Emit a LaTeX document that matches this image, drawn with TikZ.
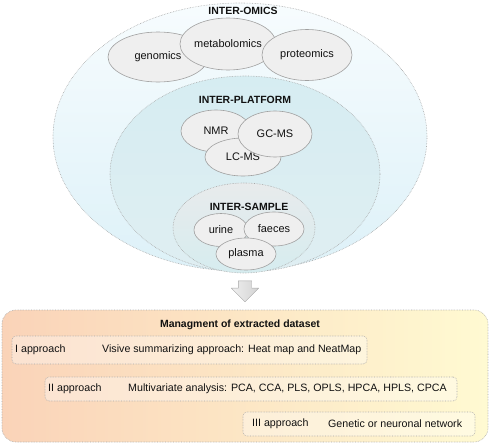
\documentclass[tikz,border=0pt]{standalone}
\usepackage{fontspec}
\setmainfont{Liberation Sans}
\usetikzlibrary{shapes.geometric,shapes.arrows}
\definecolor{ringline}{HTML}{A8A8A8}
\definecolor{omicfill}{HTML}{EFEFEF}
\definecolor{omicline}{HTML}{A0A0A0}
\definecolor{textcol}{HTML}{111111}
\definecolor{omicstop}{HTML}{F7FCFE}
\definecolor{omicsbot}{HTML}{DDF1F8}
\definecolor{platftop}{HTML}{D6EDF2}
\definecolor{platfbot}{HTML}{DFEEF2}
\definecolor{sampltop}{HTML}{E8EBEC}
\definecolor{samplbot}{HTML}{D6ECEF}
\definecolor{dataleft}{HTML}{FAD3B8}
\definecolor{dataright}{HTML}{FFFAD2}
\begin{document}
\begin{tikzpicture}[>=latex,line join=bevel,
  every node/.style={text=textcol,font=\fontsize{10.7}{12}\selectfont},
  ring/.style={ellipse,draw=ringline,densely dotted,line width=0.6bp,inner sep=0pt},
  omic/.style={ellipse,draw=omicline,fill=omicfill,line width=0.6bp,inner sep=0pt,font=\fontsize{11}{12}\selectfont},
  heading/.style={font=\fontsize{10.5}{12}\selectfont\bfseries},
  approachbox/.style={rounded corners=4bp,draw=ringline,densely dotted,line width=0.6bp,fill=white,fill opacity=0.35,inner sep=0pt},
  rowtext/.style={anchor=west,inner sep=0pt},
]
\useasboundingbox (0bp,0bp) rectangle (489bp,-444bp);
%%
\node (omics) at (240bp,-137bp) [ring,minimum width=374bp,minimum height=268bp,top color=omicstop,bottom color=omicsbot] {};
  \node (platform) at (245bp,-174bp) [ring,minimum width=270bp,minimum height=196bp,top color=platftop,bottom color=platfbot] {};
  \node (sample) at (244bp,-228bp) [ring,minimum width=142bp,minimum height=90bp,top color=sampltop,bottom color=samplbot] {};
%
\node (omics_lbl) at (243bp,-11bp) [heading] {INTER-OMICS};
  \node (platform_lbl) at (245bp,-100bp) [heading] {INTER-PLATFORM};
  \node (sample_lbl) at (249bp,-207bp) [heading] {INTER-SAMPLE};
%
\node (genomics) at (158bp,-57bp) [omic,minimum width=100bp,minimum height=50bp] {genomics};
  \node (metabolomics) at (228bp,-44bp) [omic,minimum width=96bp,minimum height=52bp] {metabolomics};
  \node (proteomics) at (307bp,-55bp) [omic,minimum width=90bp,minimum height=51bp] {proteomics};
  \node (nmr) at (216bp,-131bp) [omic,minimum width=70bp,minimum height=42bp] {NMR};
  \node (lcms) at (243bp,-157bp) [omic,minimum width=76bp,minimum height=38bp] {LC-MS};
  \node (gcms) at (275bp,-134bp) [omic,minimum width=74bp,minimum height=46bp] {GC-MS};
  \node (urine) at (221bp,-230bp) [omic,minimum width=54bp,minimum height=33bp] {urine};
  \node (faeces) at (274bp,-229bp) [omic,minimum width=60bp,minimum height=34bp] {faeces};
  \node (plasma) at (246bp,-254bp) [omic,minimum width=60bp,minimum height=32bp] {plasma};
%
\node (down) at (245bp,-288bp) [single arrow,rotate=-90,draw=gray!70,left color=gray!12,right color=gray!35,minimum height=21bp,minimum width=25bp,inner sep=6.5bp] {};
%
\node (dataset) at (245bp,-376bp) [rounded corners=14bp,draw=ringline,densely dotted,line width=0.6bp,minimum width=486bp,minimum height=132bp,inner sep=0pt,left color=dataleft,right color=dataright] {};
  \node (dataset_lbl) at (240bp,-325bp) [heading] {Managment of extracted dataset};
%
\node (box_1) at (189.5bp,-350bp) [approachbox,minimum width=355bp,minimum height=28bp] {};
  \node (box_2) at (251bp,-389bp) [approachbox,minimum width=412bp,minimum height=24bp] {};
  \node (box_3) at (359bp,-424bp) [approachbox,minimum width=232bp,minimum height=24bp] {};
  \node (step_1) at (15bp,-350bp) [rowtext] {I approach};
  \node (desc_1) at (102bp,-350bp) [rowtext] {Visive summarizing approach: Heat map and NeatMap};
  \node (step_2) at (48bp,-389bp) [rowtext] {II approach};
  \node (desc_2) at (128bp,-389bp) [rowtext] {Multivariate analysis: PCA, CCA, PLS, OPLS, HPCA, HPLS, CPCA};
  \node (step_3) at (252bp,-424bp) [rowtext] {III approach};
  \node (desc_3) at (328bp,-424bp) [rowtext] {Genetic or neuronal network};
%
\end{tikzpicture}
\end{document}
